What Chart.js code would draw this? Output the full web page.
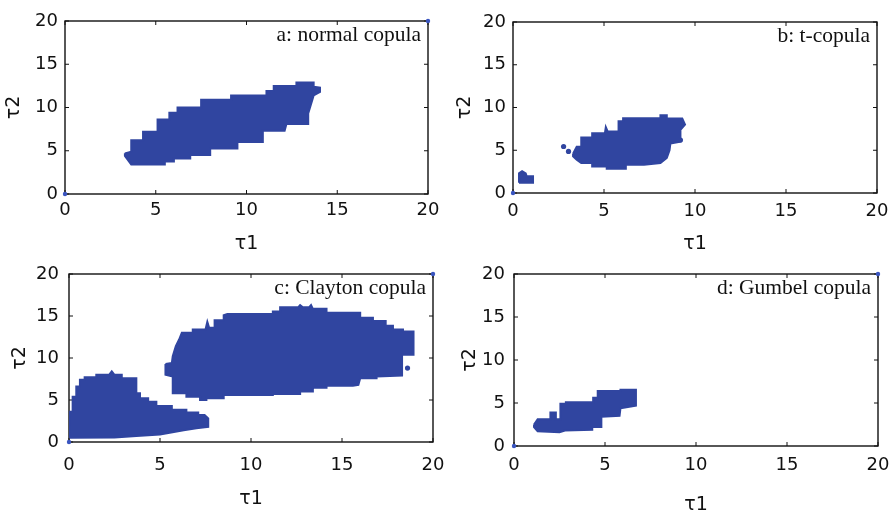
<!DOCTYPE html>
<html lang="en">
<head>
<meta charset="UTF-8">
<title>Kendall tau regions by copula</title>
<script src="https://cdn.jsdelivr.net/npm/chart.js"></script>
<style>
  body { margin: 0; background: #fff; }
  .panel { position: absolute; width: 445px; height: 255px; }
</style>
</head>
<body>
<div class="panel" style="left:0;top:0"><canvas id="chartA" width="445" height="255"></canvas></div>
<div class="panel" style="left:445px;top:0"><canvas id="chartB" width="445" height="255"></canvas></div>
<div class="panel" style="left:0;top:255px"><canvas id="chartC" width="445" height="255"></canvas></div>
<div class="panel" style="left:445px;top:255px"><canvas id="chartD" width="445" height="255"></canvas></div>
<script>
// axis ticks shared by all panels
const tickValues = [0, 5, 10, 15, 20];
const panelLabels = ['a: normal copula', 'b: t-copula', 'c: Clayton copula', 'd: Gumbel copula'];

// outlines of the point clouds, [tau1, tau2], top edge left->right then bottom edge back
const blobA = [[3.3,4.7],[3.65,4.9],[3.65,6.2],[4.3,6.2],[4.3,7.2],[5.1,7.2],[5.1,8.6],[5.75,8.6],[5.75,9.4],
  [6.2,9.4],[6.2,10.0],[7.5,10.0],[7.5,10.9],[9.15,10.9],[9.15,11.4],[11.1,11.4],[11.1,11.9],[11.5,11.9],
  [11.5,12.5],[12.75,12.5],[12.75,12.9],[13.7,12.9],[13.7,12.4],[14.05,12.3],[14.05,11.8],[13.7,11.4],
  [13.4,9.3],[13.4,8.1],[12.2,8.1],[12.1,7.3],[10.9,7.3],[10.9,6.0],[9.5,6.0],[9.5,5.25],[8.0,5.25],
  [8.0,4.5],[6.9,4.5],[6.9,4.1],[6.0,4.1],[6.0,3.75],[5.5,3.75],[5.5,3.4],[3.65,3.4],[3.3,4.4]];

const blobB1 = [[0.33,1.2],[0.33,2.3],[0.5,2.55],[0.7,2.3],[0.75,1.95],[1.1,1.95],[1.1,1.2]];
const blobB2 = [[3.3,4.6],[3.5,5.4],[3.75,5.4],[3.75,6.5],[4.35,6.5],[4.35,7.0],[5.05,7.0],[5.1,7.7],
  [5.2,7.2],[5.8,7.2],[5.8,8.4],[6.05,8.4],[6.05,8.75],[8.1,8.75],[8.1,9.1],[8.45,9.1],[8.45,8.7],
  [9.3,8.7],[9.45,8.0],[9.2,7.4],[9.2,6.0],[8.65,5.8],[8.6,5.0],[8.45,4.1],[8.1,3.5],[7.2,3.3],
  [6.2,3.3],[6.2,2.85],[5.15,2.85],[5.15,3.1],[4.35,3.1],[4.35,3.5],[3.75,3.5],[3.5,3.9],[3.3,4.3]];
const straysB = [[2.78,5.44],[3.05,4.86],[9.2,6.2]];

const blobC1 = [[0.03,0.5],[0.03,3.6],[0.2,3.6],[0.2,5.4],[0.4,5.4],[0.4,6.6],[0.6,6.6],[0.6,7.4],
  [0.86,7.4],[0.86,7.7],[1.5,7.7],[1.5,8.0],[2.2,8.0],[2.35,8.4],[2.5,8.0],[2.9,8.0],[2.9,7.6],
  [3.7,7.6],[3.7,5.8],[3.9,5.8],[3.9,5.2],[4.35,5.2],[4.35,4.8],[4.8,4.8],[4.8,4.3],[5.65,4.3],
  [5.65,3.85],[6.45,3.85],[6.45,3.5],[7.1,3.5],[7.1,3.2],[7.45,3.2],[7.65,2.8],[7.65,1.8],
  [7.0,1.65],[6.3,1.4],[5.0,0.9],[3.7,0.7],[2.5,0.55],[0.03,0.5]];
const blobC2 = [[5.3,9.3],[5.65,9.4],[5.7,10.2],[5.87,11.4],[6.05,12.2],[6.2,13.0],[6.8,13.0],[6.8,13.4],
  [7.5,13.4],[7.6,14.3],[7.7,13.6],[8.0,13.6],[8.0,14.5],[8.5,14.5],[8.5,15.1],[8.7,15.25],[11.2,15.25],
  [11.2,15.55],[11.6,15.55],[11.6,16.05],[12.6,16.05],[12.7,16.3],[12.85,16.05],[13.2,16.05],[13.3,16.3],
  [13.4,15.85],[14.15,15.85],[14.15,15.4],[16.0,15.4],[16.0,14.8],[16.7,14.8],[16.7,14.4],[17.4,14.4],
  [17.4,13.85],[17.8,13.85],[17.8,13.4],[18.35,13.4],[18.35,13.15],[18.93,13.15],[18.93,10.4],
  [18.3,10.4],[18.3,7.9],[16.9,7.8],[16.9,7.6],[16.0,7.6],[15.9,6.8],[15.6,6.7],[14.15,6.7],[14.15,6.45],
  [13.4,6.45],[13.4,6.0],[12.7,6.0],[12.7,5.7],[11.2,5.7],[11.2,5.6],[8.5,5.6],[8.5,5.2],[7.55,5.2],
  [7.55,5.0],[7.2,5.0],[7.2,5.4],[6.45,5.4],[6.45,5.8],[5.7,5.8],[5.7,7.8],[5.3,8.0]];
const straysC = [[18.6,8.8]];

const blobD = [[1.1,2.5],[1.3,3.1],[2.0,3.1],[2.0,3.9],[2.3,3.9],[2.3,3.1],[2.55,3.1],[2.55,4.9],
  [2.85,4.9],[2.85,5.1],[4.35,5.1],[4.35,5.6],[4.6,5.6],[4.6,6.4],[5.85,6.4],[5.85,6.55],[6.7,6.55],
  [6.7,4.7],[5.85,4.4],[5.8,3.5],[4.8,3.4],[4.8,2.2],[4.3,2.2],[4.3,1.9],[2.8,1.8],[2.5,1.6],
  [1.3,1.7],[1.1,2.2]];

// the corner points MATLAB drew in each panel
const cornersFull = [[0,0],[20,20]];
const cornersLow = [[0,0]];

const blue = '#3045a0';
const tickFont = { family: 'DejaVu Sans', size: 18 };
const titleFont = { family: 'DejaVu Sans', size: 19 };

const framePlugin = {
  id: 'frame',
  beforeDatasetsDraw(chart, args, opts) {
    const { ctx, chartArea: a, scales: { x, y } } = chart;
    ctx.save();
    ctx.strokeStyle = '#111';
    ctx.lineWidth = 1.4;
    ctx.strokeRect(a.left, a.top, a.right - a.left, a.bottom - a.top);
    ctx.lineWidth = 1;
    ctx.beginPath();
    x.ticks.forEach(t => {
      const px = x.getPixelForValue(t.value);
      ctx.moveTo(px, a.bottom); ctx.lineTo(px, a.bottom - 4);
      ctx.moveTo(px, a.top); ctx.lineTo(px, a.top + 4);
    });
    y.ticks.forEach(t => {
      const py = y.getPixelForValue(t.value);
      ctx.moveTo(a.left, py); ctx.lineTo(a.left + 4, py);
      ctx.moveTo(a.right, py); ctx.lineTo(a.right - 4, py);
    });
    ctx.stroke();
    ctx.font = '21.5px "Liberation Serif"';
    ctx.fillStyle = '#111';
    ctx.textAlign = 'right';
    ctx.textBaseline = 'alphabetic';
    ctx.fillText(opts.text, a.right - 7, a.top + 20);
    ctx.restore();
  }
};

function toPoints(list) {
  return list.map(p => ({ x: p[0], y: p[1] }));
}

function makePanel(id, label, blobs, strays, corners, g) {
  const datasets = blobs.map(b => ({
    data: toPoints(b.concat([b[0]])),
    showLine: true,
    fill: 'shape',
    tension: 0,
    borderColor: blue,
    backgroundColor: blue,
    borderWidth: 2,
    pointRadius: 0
  }));
  datasets.push({
    data: toPoints(strays),
    backgroundColor: blue,
    borderWidth: 0,
    pointRadius: 2.6
  });
  datasets.push({
    data: toPoints(corners),
    backgroundColor: '#3a55c0',
    borderWidth: 0,
    pointRadius: 2.2,
    clip: false
  });

  new Chart(document.getElementById(id), {
    type: 'scatter',
    data: { datasets },
    plugins: [framePlugin],
    options: {
      responsive: false,
      animation: false,
      events: [],
      layout: { padding: { top: g.top, right: g.right, left: 0, bottom: 0 } },
      plugins: {
        legend: { display: false },
        tooltip: { enabled: false },
        frame: { text: label }
      },
      scales: {
        x: {
          type: 'linear', min: 0, max: 20,
          afterBuildTicks: s => { s.ticks = tickValues.map(v => ({ value: v })); },
          ticks: { padding: g.xPad, color: '#111', font: tickFont },
          grid: { display: false, drawTicks: false },
          border: { display: false },
          title: { display: true, text: 'τ1', color: '#111', font: titleFont, padding: { top: 0, bottom: g.xTitle } },
          afterFit: s => { s.height = g.xH; s.paddingLeft = 0; s.paddingRight = 0; }
        },
        y: {
          type: 'linear', min: 0, max: 20,
          afterBuildTicks: s => { s.ticks = tickValues.map(v => ({ value: v })); },
          ticks: { padding: g.yPad, color: '#111', font: tickFont },
          grid: { display: false, drawTicks: false },
          border: { display: false },
          title: { display: true, text: 'τ2', color: '#111', font: titleFont, padding: { top: g.yTitle, bottom: 0 } },
          afterFit: s => { s.width = g.yW; s.paddingTop = 0; s.paddingBottom = 0; }
        }
      }
    }
  });
}

makePanel('chartA', panelLabels[0], [blobA], [], cornersFull,
  { top: 21, right: 17, xH: 61, yW: 65, xPad: 6, yPad: 7, xTitle: 0, yTitle: 3 });
makePanel('chartB', panelLabels[1], [blobB1, blobB2], straysB, cornersLow,
  { top: 22, right: 13, xH: 62, yW: 68, xPad: 8, yPad: 7, xTitle: 0, yTitle: 9 });
makePanel('chartC', panelLabels[2], [blobC1, blobC2], straysC, cornersFull,
  { top: 19, right: 12, xH: 68, yW: 69, xPad: 13, yPad: 10, xTitle: 0, yTitle: 9 });
makePanel('chartD', panelLabels[3], [blobD], [], cornersFull,
  { top: 19, right: 12, xH: 64, yW: 69, xPad: 9, yPad: 9, xTitle: -6, yTitle: 14 });
</script>
</body>
</html>
